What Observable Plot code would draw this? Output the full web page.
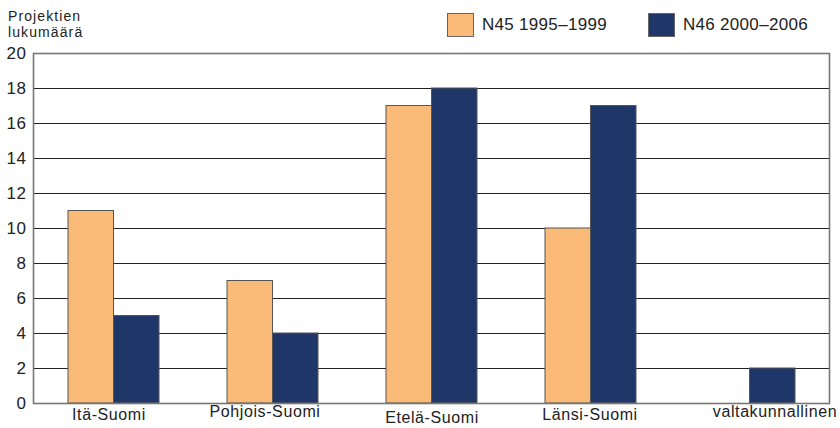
<!DOCTYPE html>
<html>
<head>
<meta charset="utf-8">
<script src="https://cdn.jsdelivr.net/npm/d3@7"></script>
<script src="https://cdn.jsdelivr.net/npm/@observablehq/plot@0.6"></script>
<style>
  body { margin: 0; background: #fff; }
  #wrap { position: relative; width: 840px; height: 428px; font-family: "Liberation Sans", Arial, sans-serif; color: #222; }
  #wrap svg { position: absolute; left: 0; top: 0; }
  #wrap svg text { letter-spacing: 0.6px; }
  .title { position: absolute; left: 8px; font-size: 14px; line-height: 16px; letter-spacing: 1.1px; }
  .leg { position: absolute; top: 13px; display: flex; align-items: center; font-size: 17px; letter-spacing: 0.3px; }
  .sw { width: 27px; height: 24px; box-sizing: border-box; border: 1px solid #666; margin-right: 8px; }
</style>
</head>
<body>
<div id="wrap">
  <div class="title" style="top:8px">Projektien</div>
  <div class="title" style="top:24px">lukumäärä</div>
  <div class="leg" style="left:447px"><div class="sw" id="sw0"></div><span id="lg0"></span></div>
  <div class="leg" style="left:648px"><div class="sw" id="sw1"></div><span id="lg1"></span></div>
</div>
<script>
const categories = ["Itä-Suomi", "Pohjois-Suomi", "Etelä-Suomi", "Länsi-Suomi", "valtakunnallinen"];
const seriesNames = ["N45 1995–1999", "N46 2000–2006"];
const seriesColors = ["#fbbb78", "#1f3669"];
const n45 = [11, 7, 17, 10, null];
const n46 = [5, 4, 18, 17, 2];
const yTicks = [0, 2, 4, 6, 8, 10, 12, 14, 16, 18, 20];

const rows45 = categories.map((c, i) => ({cat: c, v: n45[i]})).filter(d => d.v != null);
const rows46 = categories.map((c, i) => ({cat: c, v: n46[i]})).filter(d => d.v != null);

document.getElementById("sw0").style.background = seriesColors[0];
document.getElementById("sw1").style.background = seriesColors[1];
document.getElementById("lg0").textContent = seriesNames[0];
document.getElementById("lg1").textContent = seriesNames[1];

const half = 45.5;
const xAx = (list, dx, dy) => Plot.axisX(list, {tickSize: 0, tickPadding: 5, dx, dy, label: null, fill: "#222"});

const chart = Plot.plot({
  width: 840,
  height: 428,
  marginLeft: 33,
  marginRight: 11,
  marginTop: 53,
  marginBottom: 25,
  style: {fontSize: "16px", fontFamily: "Liberation Sans, Arial, sans-serif", color: "#222", background: "white"},
  x: {domain: categories, paddingInner: 0.428, paddingOuter: 0.214, axis: null},
  y: {domain: [0, 20], axis: null},
  marks: [
    Plot.ruleY(yTicks.slice(1, -1), {stroke: "#222", strokeWidth: 1.2}),
    Plot.barY(rows45, {x: "cat", y: "v", fill: seriesColors[0], stroke: "#555", strokeWidth: 1, insetRight: half}),
    Plot.barY(rows46, {x: "cat", y: "v", fill: seriesColors[1], stroke: "#555", strokeWidth: 1, insetLeft: half}),
    Plot.frame({stroke: "#777", strokeWidth: 1.6}),
    Plot.axisY(yTicks, {tickSize: 0, tickPadding: 7, label: null, fill: "#222", fontSize: 17}),
    xAx([categories[0]], -5, 0),
    xAx([categories[1]], -8, -3),
    xAx([categories[2]], 0, 3),
    xAx([categories[3]], -1, 0),
    xAx([categories[4]], 25, -3)
  ]
});
document.getElementById("wrap").prepend(chart);
</script>
</body>
</html>
